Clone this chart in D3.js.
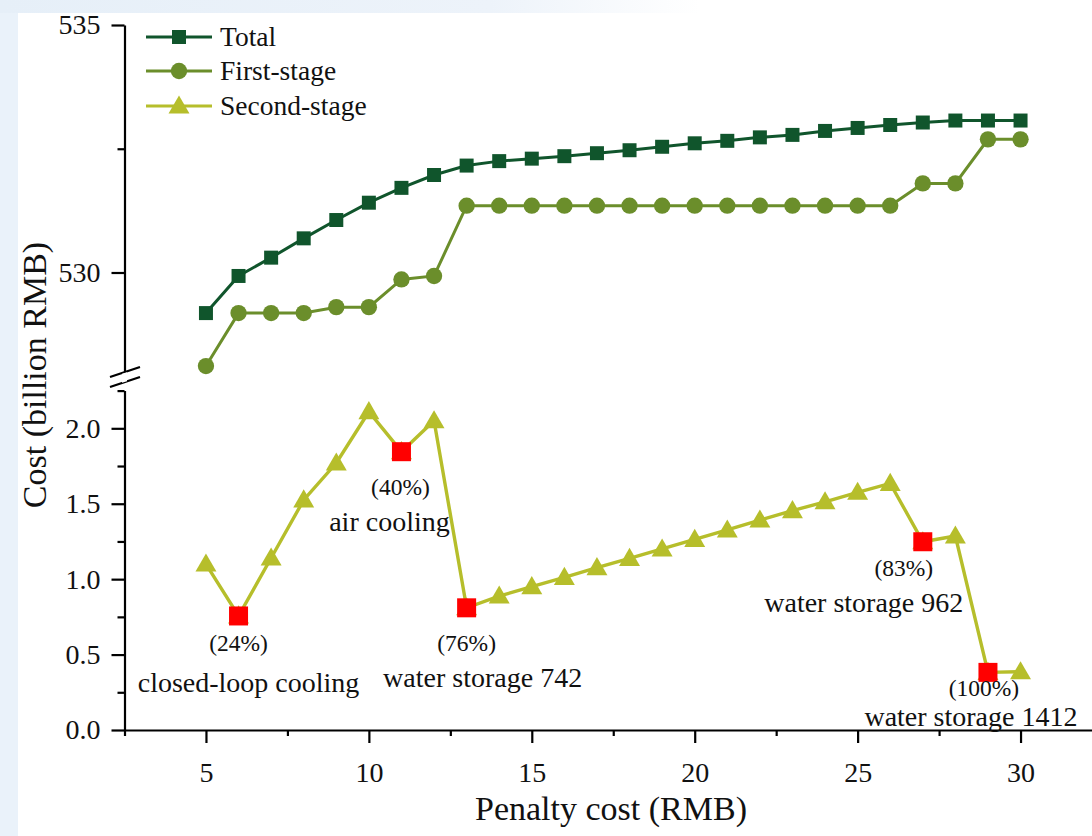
<!DOCTYPE html>
<html lang="en">
<head>
    <meta charset="UTF-8">
    <title>Cost vs penalty cost</title>
    <script src="https://d3js.org/d3.v7.min.js"></script>
    <style>
        body { margin: 0; background: #fff; }
        svg { display: block; font-family: "Liberation Serif", "Times New Roman", serif; }
        .axis path, .axis line { stroke: #000; stroke-width: 2.2; }
    </style>
</head>
<body>
    <script>
        // Data
        const penalty = [5, 6, 7, 8, 9, 10, 11, 12, 13, 14, 15, 16, 17, 18, 19, 20, 21, 22, 23, 24, 25, 26, 27, 28, 29, 30];
        const total = [529.18, 529.93, 530.30, 530.69, 531.06, 531.41, 531.71, 531.97, 532.16, 532.25, 532.30, 532.35, 532.41,
                       532.47, 532.54, 532.61, 532.66, 532.73, 532.78, 532.86, 532.92, 532.98, 533.03, 533.07, 533.07, 533.07];
        const firstStage = [528.11, 529.18, 529.18, 529.18, 529.30, 529.30, 529.86, 529.93, 531.35, 531.35, 531.35, 531.35, 531.35,
                            531.35, 531.35, 531.35, 531.35, 531.35, 531.35, 531.35, 531.35, 531.35, 531.80, 531.80, 532.69, 532.69];
        const secondStage = [1.10, 0.756, 1.14, 1.525, 1.77, 2.11, 1.845, 2.05, 0.81, 0.888, 0.95, 1.012, 1.076,
                             1.138, 1.20, 1.264, 1.326, 1.392, 1.454, 1.513, 1.576, 1.635, 1.248, 1.286, 0.382, 0.386];

        const switchPoints = [6, 11, 13, 27, 29];
        const switchPct = ['(24%)', '(40%)', '(76%)', '(83%)', '(100%)'];
        const switchTech = ['closed-loop cooling', 'air cooling', 'water storage 742', 'water storage 962', 'water storage 1412'];

        const seriesNames = ['Total', 'First-stage', 'Second-stage'];
        const xTicks = [5, 10, 15, 20, 25, 30];
        const xMinorTicks = [2.5, 7.5, 12.5, 17.5, 22.5, 27.5];
        const upperTicks = [530, 535];
        const upperMinorTicks = [532.5];
        const lowerTicks = [0, 0.5, 1.0, 1.5, 2.0];
        const lowerMinorTicks = [0.25, 0.75, 1.25, 1.75, 2.25];

        const colors = { total: '#10552c', first: '#6b8e2b', second: '#b6be2b', red: '#ff0000' };
        const W = 1092, H = 836;
        const serif = '"Liberation Serif", "Times New Roman", serif';

        const svg = d3.select('body').append('svg')
            .attr('width', W)
            .attr('height', H);

        // faint blue page edge like the scanned figure
        const defs = svg.append('defs');
        const grad = defs.append('linearGradient').attr('id', 'topfade');
        grad.append('stop').attr('offset', '0%').attr('stop-color', '#e6eff8');
        grad.append('stop').attr('offset', '70%').attr('stop-color', '#edf3fa');
        grad.append('stop').attr('offset', '100%').attr('stop-color', '#ffffff');
        svg.append('rect').attr('x', 0).attr('y', 0).attr('width', W).attr('height', H).attr('fill', '#fff');
        svg.append('rect').attr('x', 0).attr('y', 0).attr('width', 18).attr('height', H).attr('fill', '#eaf2fa');
        svg.append('rect').attr('x', 0).attr('y', 0).attr('width', 700).attr('height', 13).attr('fill', 'url(#topfade)');

        // Scales: one x, two y (broken axis)
        const x = d3.scaleLinear().domain([2.5, 32.5]).range([124.5, 1102]);
        const yUp = d3.scaleLinear().domain([528, 535]).range([371.5, 25]);
        const yLow = d3.scaleLinear().domain([0, 2.25]).range([730, 390.6]);

        function styleTicks(g) {
            g.attr('font-family', serif).attr('font-size', 28);
            g.selectAll('text').attr('fill', '#111').style('font-size', '28px').style('font-family', serif);
        }

        // X axis
        svg.append('g').attr('class', 'axis')
            .attr('transform', 'translate(0,730)')
            .call(d3.axisBottom(x).tickValues(xMinorTicks).tickSize(6).tickSizeOuter(0).tickFormat(''));
        svg.append('g').attr('class', 'axis')
            .attr('transform', 'translate(0,730)')
            .call(d3.axisBottom(x).tickValues(xTicks).tickSize(13).tickSizeOuter(0).tickPadding(19).tickFormat(d3.format('d')))
            .call(styleTicks)
            .select('.domain').remove();

        // Upper Y axis
        svg.append('g').attr('class', 'axis')
            .attr('transform', 'translate(124.5,0)')
            .call(d3.axisLeft(yUp).tickValues(upperMinorTicks).tickSize(7).tickSizeOuter(0).tickFormat(''));
        svg.append('g').attr('class', 'axis')
            .attr('transform', 'translate(124.5,0)')
            .call(d3.axisLeft(yUp).tickValues(upperTicks).tickSize(13).tickSizeOuter(0).tickPadding(11).tickFormat(d3.format('d')))
            .call(styleTicks)
            .select('.domain').remove();

        // Lower Y axis
        svg.append('g').attr('class', 'axis')
            .attr('transform', 'translate(124.5,0)')
            .call(d3.axisLeft(yLow).tickValues(lowerMinorTicks).tickSize(7).tickSizeOuter(0).tickFormat(''));
        svg.append('g').attr('class', 'axis')
            .attr('transform', 'translate(124.5,0)')
            .call(d3.axisLeft(yLow).tickValues(lowerTicks).tickSize(13).tickSizeOuter(0).tickPadding(11).tickFormat(d3.format('.1f')))
            .call(styleTicks)
            .select('.domain').remove();

        // break marks
        const brk = svg.append('g').attr('stroke', '#000').attr('stroke-width', 2.2);
        [[110, 377, 140, 367], [110, 387, 140, 377]].forEach(l => {
            brk.append('line').attr('x1', l[0]).attr('y1', l[1]).attr('x2', l[2]).attr('y2', l[3]);
        });
        svg.append('rect').attr('x', 122).attr('y', 373).attr('width', 5).attr('height', 9).attr('fill', '#fff')
            .attr('transform', 'skewY(-18.4)').attr('transform-origin', '124.5 377');

        // Lines
        const lineUp = d3.line().x((d, i) => x(penalty[i])).y(d => yUp(d));
        const lineLow = d3.line().x((d, i) => x(penalty[i])).y(d => yLow(d));

        svg.append('path').datum(firstStage).attr('d', lineUp)
            .attr('fill', 'none').attr('stroke', colors.first).attr('stroke-width', 3);
        svg.append('path').datum(total).attr('d', lineUp)
            .attr('fill', 'none').attr('stroke', colors.total).attr('stroke-width', 3);
        svg.append('path').datum(secondStage).attr('d', lineLow)
            .attr('fill', 'none').attr('stroke', colors.second).attr('stroke-width', 3.4);

        const sq = d3.symbol().type(d3.symbolSquare).size(196);
        const circ = d3.symbol().type(d3.symbolCircle).size(210);
        const tri = d3.symbol().type(d3.symbolTriangle).size(190);

        svg.append('g').selectAll('path').data(firstStage).join('path')
            .attr('d', circ).attr('fill', colors.first)
            .attr('transform', (d, i) => `translate(${x(penalty[i])},${yUp(d)})`);
        svg.append('g').selectAll('path').data(total).join('path')
            .attr('d', sq).attr('fill', colors.total)
            .attr('transform', (d, i) => `translate(${x(penalty[i])},${yUp(d)})`);
        svg.append('g').selectAll('path').data(secondStage).join('path')
            .attr('d', tri).attr('fill', colors.second)
            .attr('transform', (d, i) => `translate(${x(penalty[i])},${yLow(d) + 1.5})`);

        // highlighted technology switch points
        const swVal = p => secondStage[penalty.indexOf(p)];
        svg.append('g').selectAll('rect').data(switchPoints).join('rect')
            .attr('x', d => x(d) - 9.5).attr('y', d => yLow(swVal(d)) - 9.5)
            .attr('width', 19).attr('height', 19).attr('fill', colors.red);

        // label offsets from each red point: [pct dx, pct dy, tech dx, tech dy]
        const offs = [[0, 27, 10, 67], [-1, 35, -12, 70], [0, 35, 16, 70], [-19, 26, -59, 61], [-4, 16, -17, 45]];
        const ann = svg.append('g').attr('fill', '#111').attr('text-anchor', 'middle');
        switchPoints.forEach((p, i) => {
            const px = x(p), py = yLow(swVal(p));
            ann.append('text').attr('x', px + offs[i][0]).attr('y', py + offs[i][1] + 8)
                .attr('font-size', 23.5).text(switchPct[i]);
            ann.append('text').attr('x', px + offs[i][2]).attr('y', py + offs[i][3] + 9)
                .attr('font-size', 28).text(switchTech[i]);
        });

        // Legend
        const legY = [37, 71, 106];
        const legCol = [colors.total, colors.first, colors.second];
        const legSym = [sq, circ, tri];
        const leg = svg.append('g');
        seriesNames.forEach((name, i) => {
            leg.append('line').attr('x1', 146).attr('x2', 212).attr('y1', legY[i]).attr('y2', legY[i])
                .attr('stroke', legCol[i]).attr('stroke-width', 3);
            leg.append('path').attr('d', legSym[i]).attr('fill', legCol[i])
                .attr('transform', `translate(179,${legY[i] + (i === 2 ? 1.5 : 0)})`);
            leg.append('text').attr('x', 220).attr('y', legY[i] + 9)
                .attr('font-size', 27.5).attr('fill', '#111').text(name);
        });

        // Axis titles
        svg.append('text').attr('x', 611).attr('y', 820).attr('text-anchor', 'middle')
            .attr('font-size', 34).attr('fill', '#111').text('Penalty cost (RMB)');
        svg.append('text').attr('transform', 'translate(46,375) rotate(-90)').attr('text-anchor', 'middle')
            .attr('font-size', 34).attr('fill', '#111').text('Cost (billion RMB)');
    </script>
</body>
</html>
